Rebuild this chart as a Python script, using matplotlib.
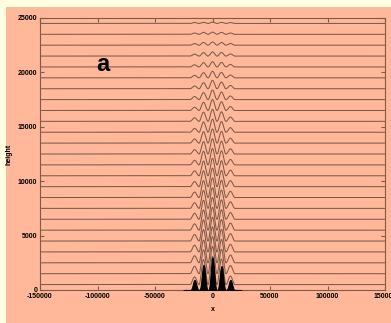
import numpy as np
import matplotlib
matplotlib.use("Agg")
import matplotlib.pyplot as plt
from matplotlib.patches import Rectangle

# ---- data ----
peak_x = [-15600, -7800, 0, 7800, 15600]          # peak positions (x)
baselines = [500 + 1000 * k for k in range(25)]   # offset of each profile
# peak heights above each baseline, bottom line first
peak_heights = [
    [700, 2300, 2600, 2350, 780],
    [680, 2200, 2500, 2250, 750],
    [650, 2100, 2400, 2150, 720],
    [620, 2050, 2300, 2080, 700],
    [600, 1950, 2200, 1980, 680],
    [580, 1850, 2100, 1880, 650],
    [550, 1750, 2000, 1780, 620],
    [520, 1650, 1900, 1680, 600],
    [500, 1550, 1800, 1580, 570],
    [470, 1450, 1700, 1480, 550],
    [450, 1350, 1600, 1380, 520],
    [420, 1250, 1500, 1280, 500],
    [400, 1150, 1400, 1180, 480],
    [380, 1050, 1300, 1080, 450],
    [350, 950, 1200, 980, 420],
    [330, 850, 1100, 880, 400],
    [300, 750, 1000, 800, 360],
    [280, 650, 880, 700, 330],
    [250, 550, 770, 610, 300],
    [230, 480, 600, 500, 260],
    [200, 400, 480, 420, 230],
    [180, 320, 380, 330, 200],
    [150, 250, 300, 250, 160],
    [120, 180, 200, 180, 120],
    [80, 100, 120, 100, 80],
]
initial_heights = [920, 2300, 2970, 2200, 920]    # black initial profile
initial_extent = [-25000, 25000]
xticks = [-150000, -100000, -50000, 0, 50000, 100000, 150000]
yticks = [0, 5000, 10000, 15000, 20000, 25000]
xlim = [-150000, 150000]
ylim = [0, 25000]

# ---- styling ----
W, H = 391, 323
DPI = 100
salmon = "#FFB899"
yellow = "#FFFFE0"
linecol = "#7E5B4B"
spacing = 7800
tickfont = "Liberation Sans"


def bumps(x, heights, power):
    y = np.zeros_like(x)
    for p, h in zip(peak_x, heights):
        u = (x - p) / spacing
        m = np.abs(u) < 0.5
        y[m] += h * np.abs(np.cos(np.pi * u[m])) ** power
    return y


fig = plt.figure(figsize=(W / DPI, H / DPI), dpi=DPI, facecolor=yellow)
fig.patches.append(Rectangle((6 / W, 0), 1 - 6 / W, 1 - 7 / H,
                             transform=fig.transFigure, facecolor=salmon,
                             edgecolor="none", zorder=-10))

ax = fig.add_axes([40 / W, 33 / H, 345 / W, 272 / H])
ax.set_facecolor(salmon)

x = np.linspace(xlim[0], xlim[1], 6001)
for b, hs in zip(baselines, peak_heights):
    ax.plot(x, b + bumps(x, hs, 2), color=linecol, lw=0.75)

xi = np.linspace(initial_extent[0], initial_extent[1], 1001)
ax.fill_between(xi, 0, bumps(xi, initial_heights, 3), facecolor="black",
                edgecolor="black", lw=0.8, zorder=5)

ax.set_xlim(xlim)
ax.set_ylim(ylim)
ax.set_xticks(xticks)
ax.set_yticks(yticks)
ax.set_xticklabels([str(t) for t in xticks])
ax.set_yticklabels([str(t) for t in yticks])
ax.tick_params(direction="in", length=3, width=0.8, colors=linecol,
               top=True, right=True, labelsize=5, pad=2)
for lab in ax.get_xticklabels() + ax.get_yticklabels():
    lab.set_fontweight("bold")
    lab.set_color("black")
    lab.set_family(tickfont)
for s in ax.spines.values():
    s.set_color(linecol)
    s.set_linewidth(0.8)

ax.set_xlabel("x", fontsize=5, fontweight="bold", family=tickfont)
ax.xaxis.set_label_coords(0.5, -16 / 272)
ax.set_ylabel("height", fontsize=5, fontweight="bold", family=tickfont)
ax.yaxis.set_label_coords(-27 / 345, 0.5)

ax.text(-95000, 20700, "a", fontsize=17, fontweight="bold",
        family="Liberation Sans", ha="center", va="center")

fig.savefig("out.png", dpi=DPI, facecolor=yellow)
